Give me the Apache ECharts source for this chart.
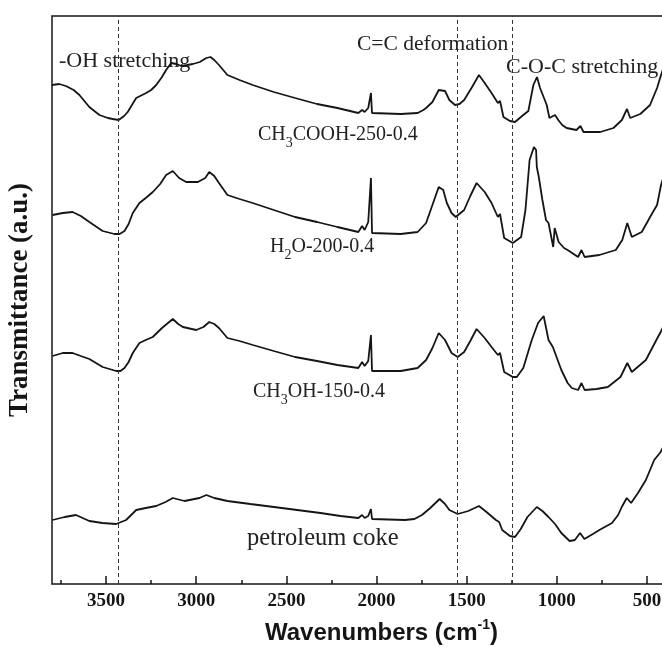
<!DOCTYPE html>
<html>
<head>
<meta charset="utf-8">
<script src="https://cdn.jsdelivr.net/npm/echarts@6/dist/echarts.min.js"></script>
<style>
  html, body { margin: 0; padding: 0; background: #fff; }
  #chart { width: 662px; height: 647px; }
</style>
</head>
<body>
<div id="chart"></div>
<script>
// wavenumber (cm-1), transmittance (a.u.)
const acetic = [
  [3800, 499], [3760, 500], [3723, 498], [3680, 494], [3648, 489], [3593, 477], [3537, 469],
  [3490, 466], [3463, 465], [3430, 464], [3400, 468], [3380, 472], [3350, 481], [3333, 486],
  [3300, 489], [3278, 491], [3250, 494], [3222, 499], [3190, 507], [3167, 514], [3139, 521],
  [3110, 520], [3083, 518], [3050, 519], [3019, 520], [2980, 522], [2944, 526], [2921, 527],
  [2900, 524], [2874, 519], [2827, 509], [2760, 504], [2687, 499], [2570, 492], [2452, 486],
  [2330, 480], [2217, 476], [2101, 471], [2080, 474], [2066, 472], [2046, 476], [2031, 491],
  [2025, 471], [1866, 470], [1772, 471], [1740, 474], [1725, 476], [1690, 482], [1655, 494],
  [1620, 493], [1596, 484], [1565, 479], [1540, 480], [1514, 484], [1470, 497], [1432, 509],
  [1400, 501], [1362, 491], [1327, 481], [1315, 483], [1296, 467], [1260, 463], [1232, 462],
  [1186, 469], [1158, 473], [1130, 499], [1110, 507], [1093, 496], [1056, 479], [1041, 466],
  [1010, 469], [992, 464], [970, 459], [946, 456], [891, 454], [869, 458], [852, 452],
  [800, 452], [759, 452], [686, 456], [639, 464], [611, 475], [593, 466], [537, 470],
  [483, 479], [444, 496], [422, 509], [405, 518]
];
const water = [
  [3797, 369], [3740, 371], [3686, 372], [3640, 368], [3593, 362], [3519, 353], [3454, 350],
  [3425, 350], [3398, 353], [3375, 360], [3352, 371], [3315, 381], [3280, 386], [3241, 392],
  [3200, 400], [3167, 409], [3130, 413], [3095, 406], [3056, 402], [2991, 402], [2950, 406],
  [2928, 412], [2900, 408], [2874, 401], [2827, 389], [2760, 385], [2687, 381], [2570, 374],
  [2452, 367], [2330, 362], [2217, 357], [2101, 352], [2080, 358], [2066, 354], [2046, 362],
  [2031, 406], [2025, 351], [1866, 350], [1772, 352], [1725, 361], [1690, 379], [1655, 397],
  [1630, 394], [1610, 381], [1584, 371], [1561, 367], [1514, 374], [1480, 388], [1445, 401],
  [1400, 392], [1362, 381], [1327, 367], [1315, 370], [1292, 346], [1244, 341], [1198, 347],
  [1174, 374], [1151, 424], [1127, 437], [1115, 434], [1111, 417], [1100, 407], [1080, 384],
  [1060, 364], [1046, 361], [1020, 337], [1012, 356], [990, 342], [960, 336], [940, 334],
  [882, 327], [863, 334], [846, 327], [764, 329], [673, 334], [637, 344], [609, 361],
  [584, 347], [529, 352], [470, 371], [444, 379], [422, 399], [405, 409]
];
const methanol = [
  [3797, 228], [3740, 231], [3686, 231], [3640, 228], [3593, 225], [3519, 217], [3444, 213],
  [3420, 213], [3398, 216], [3375, 222], [3352, 231], [3315, 241], [3280, 244], [3241, 247],
  [3190, 256], [3130, 265], [3100, 260], [3074, 257], [3000, 254], [2960, 257], [2928, 262],
  [2900, 260], [2874, 256], [2827, 246], [2760, 243], [2686, 239], [2570, 233], [2452, 227],
  [2330, 223], [2217, 219], [2101, 216], [2080, 222], [2066, 218], [2046, 223], [2031, 249],
  [2025, 213], [1866, 213], [1772, 216], [1725, 224], [1690, 236], [1655, 251], [1620, 244],
  [1584, 231], [1550, 227], [1514, 232], [1480, 243], [1445, 255], [1400, 246], [1362, 237],
  [1327, 229], [1315, 231], [1292, 212], [1244, 207], [1222, 207], [1186, 216], [1139, 244],
  [1104, 261], [1073, 268], [1046, 244], [1022, 237], [975, 214], [940, 201], [917, 196],
  [882, 194], [863, 201], [846, 194], [780, 195], [717, 197], [647, 207], [609, 221],
  [584, 212], [506, 224], [448, 244], [424, 252], [405, 259]
];
const coke = [
  [3797, 64], [3730, 67], [3667, 69], [3593, 63], [3520, 61], [3444, 60], [3389, 64],
  [3333, 74], [3280, 76], [3222, 78], [3170, 82], [3130, 86], [3065, 83], [2982, 86],
  [2944, 89], [2900, 86], [2827, 83], [2700, 80], [2569, 77], [2440, 74], [2311, 71],
  [2200, 68], [2101, 66], [2080, 69], [2066, 66], [2046, 68], [2031, 75], [2025, 65],
  [1843, 64], [1790, 65], [1748, 69], [1702, 76], [1650, 85], [1620, 80], [1596, 74],
  [1550, 70], [1491, 73], [1432, 78], [1390, 72], [1338, 64], [1320, 62], [1303, 54],
  [1260, 48], [1232, 47], [1200, 55], [1163, 67], [1111, 77], [1080, 73], [1046, 67],
  [1010, 60], [975, 51], [929, 43], [900, 44], [871, 51], [847, 45], [800, 50], [764, 54],
  [694, 61], [660, 69], [640, 77], [612, 86], [588, 81], [550, 91], [506, 104], [460, 124],
  [424, 132], [405, 139]
];
const xTicks = [3500, 3000, 2500, 2000, 1500, 1000, 500];
const xMinorTicks = [3750, 3250, 2750, 2250, 1750, 1250, 750];
const bandMarks = [3430, 1550, 1250];

const serif = 'Liberation Serif, Times New Roman, serif';
const sans = 'Liberation Sans, Arial, sans-serif';
const ink = '#151515';

const chart = echarts.init(document.getElementById('chart'));

const curve = (data, extra) => Object.assign({
  type: 'line',
  data: data,
  showSymbol: false,
  symbol: 'none',
  lineStyle: { color: ink, width: 1.8 },
  silent: true
}, extra || {});

const note = (text, x, y, size, rich) => ({
  type: 'text',
  x: x,
  y: y,
  silent: true,
  style: {
    text: text,
    fill: '#222',
    fontFamily: serif,
    fontSize: size,
    align: 'left',
    verticalAlign: 'middle',
    rich: rich || {}
  }
});

const subStyle = { s: { fontFamily: serif, fontSize: 14, fill: '#222', padding: [16, 0, 0, 0] } };

chart.setOption({
  animation: false,
  grid: {
    left: 52,
    right: -3,
    top: 16,
    bottom: 63,
    outerBoundsMode: 'none',
    containLabel: false,
    show: true,
    borderColor: ink,
    borderWidth: 1.5
  },
  xAxis: [
    {
      type: 'value',
      inverse: true,
      min: 400,
      max: 3800,
      axisLine: { show: false },
      splitLine: { show: false },
      axisTick: {
        show: true,
        inside: true,
        length: 8,
        customValues: xTicks,
        lineStyle: { color: ink, width: 1.5 }
      },
      axisLabel: {
        customValues: xTicks,
        formatter: v => String(v),
        fontFamily: serif,
        fontWeight: 'bold',
        fontSize: 19,
        color: ink,
        margin: 8
      }
    },
    {
      type: 'value',
      position: 'bottom',
      inverse: true,
      min: 400,
      max: 3800,
      axisLine: { show: false },
      splitLine: { show: false },
      axisLabel: { show: false },
      axisTick: {
        show: true,
        inside: true,
        length: 4,
        customValues: xMinorTicks,
        lineStyle: { color: ink, width: 1.5 }
      }
    }
  ],
  yAxis: {
    type: 'value',
    min: 0,
    max: 568,
    axisLine: { show: false },
    axisTick: { show: false },
    axisLabel: { show: false },
    splitLine: { show: false },
    name: 'Transmittance (a.u.)',
    nameLocation: 'middle',
    nameGap: 18,
    nameRotate: 90,
    nameTextStyle: {
      fontFamily: serif,
      fontWeight: 'bold',
      fontSize: 27,
      color: ink
    }
  },
  series: [
    curve(acetic, {
      name: 'CH3COOH-250-0.4',
      markLine: {
        silent: true,
        symbol: ['none', 'none'],
        label: { show: false },
        lineStyle: { color: '#333', width: 1, type: [4, 3] },
        data: bandMarks.map(v => ({ xAxis: v }))
      }
    }),
    curve(water, { name: 'H2O-200-0.4' }),
    curve(methanol, { name: 'CH3OH-150-0.4' }),
    curve(coke, { name: 'petroleum coke' })
  ],
  graphic: [
    note('-OH stretching', 59, 61, 22),
    note('C=C deformation', 357, 44, 21.5),
    note('C-O-C stretching', 506, 67, 22),
    note('CH{s|3}COOH-250-0.4', 258, 135, 20, subStyle),
    note('H{s|2}O-200-0.4', 270, 247, 20, subStyle),
    note('CH{s|3}OH-150-0.4', 253, 392, 20, subStyle),
    note('petroleum coke', 247, 539, 24.5),
    {
      type: 'text',
      x: 265,
      y: 633,
      silent: true,
      style: {
        text: 'Wavenumbers (cm{p|-1})',
        fill: ink,
        fontFamily: sans,
        fontWeight: 'bold',
        fontSize: 24,
        align: 'left',
        verticalAlign: 'middle',
        rich: {
          p: { fontFamily: sans, fontWeight: 'bold', fontSize: 14, fill: ink, padding: [0, 0, 15, 0] }
        }
      }
    }
  ]
});
</script>
</body>
</html>
